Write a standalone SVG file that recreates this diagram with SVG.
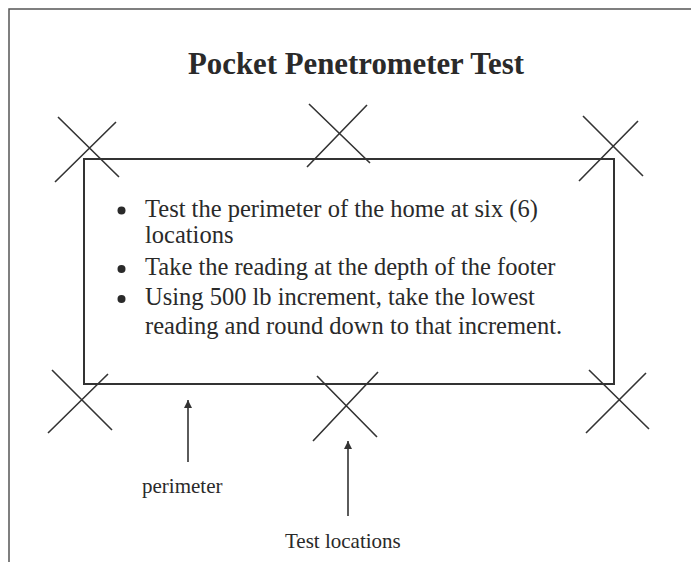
<svg xmlns="http://www.w3.org/2000/svg" width="691" height="562" viewBox="0 0 691 562">
<defs>
<style>
.frame{fill:none;stroke:#555;stroke-width:1.5}
.box{fill:none;stroke:#333;stroke-width:2}
.x{stroke:#333;stroke-width:1.6;fill:none}
.conn{stroke:#333;stroke-width:1.6;fill:none}
.t{font-family:"Liberation Serif","Times New Roman",serif;fill:#2a2a2a}
.title{font-size:32px;font-weight:bold}
.body{font-size:24.5px}
.lbl{font-size:21px}
</style>
<marker id="ah" viewBox="0 0 8 10" refX="8" refY="5" markerWidth="8" markerHeight="10" markerUnits="userSpaceOnUse" orient="auto">
<path d="M0,1 L8,5 L0,9 Z" fill="#333"/>
</marker>
</defs>
<rect width="691" height="562" fill="#fff"/>
<path class="frame" d="M9,562 L9,9 L691,9"/>
<text class="t title" x="356" y="74" text-anchor="middle" textLength="336" lengthAdjust="spacingAndGlyphs">Pocket Penetrometer Test</text>

<g id="perimeter-box">
<rect class="box" x="84" y="159" width="530" height="225"/>
<circle cx="121.5" cy="210.5" r="4" fill="#2a2a2a"/>
<circle cx="121.5" cy="269" r="4" fill="#2a2a2a"/>
<circle cx="121.5" cy="299" r="4" fill="#2a2a2a"/>
<text class="t body" x="145" y="217">Test the perimeter of the home at six (6)</text>
<text class="t body" x="145" y="243">locations</text>
<text class="t body" x="145" y="275">Take the reading at the depth of the footer</text>
<text class="t body" x="145" y="305">Using 500 lb increment, take the lowest</text>
<text class="t body" x="145" y="334">reading and round down to that increment.</text>
</g>

<g id="loc-top-left"><path class="x" d="M58,117 L119,177 M116,122 L55,182"/></g>
<g id="loc-top-middle"><path class="x" d="M309,104 L370,163 M367,105 L307,167"/></g>
<g id="loc-top-right"><path class="x" d="M583,116 L643,176 M638,121 L579,181"/></g>
<g id="loc-bottom-left"><path class="x" d="M52,370 L112,430 M108,374 L48,433"/></g>
<g id="loc-bottom-middle"><path class="x" d="M317,376 L377,437 M378,372 L313,441"/></g>
<g id="loc-bottom-right"><path class="x" d="M589,370 L649,429 M646,373 L586,433"/></g>

<g id="connectors">
<line class="conn" x1="188" y1="462" x2="188" y2="400" marker-end="url(#ah)"/>
<line class="conn" x1="348" y1="516" x2="348" y2="441" marker-end="url(#ah)"/>
</g>

<g id="label-perimeter"><text class="t lbl" x="142" y="493">perimeter</text></g>
<g id="label-test-locations"><text class="t lbl" x="285" y="548">Test locations</text></g>
</svg>
